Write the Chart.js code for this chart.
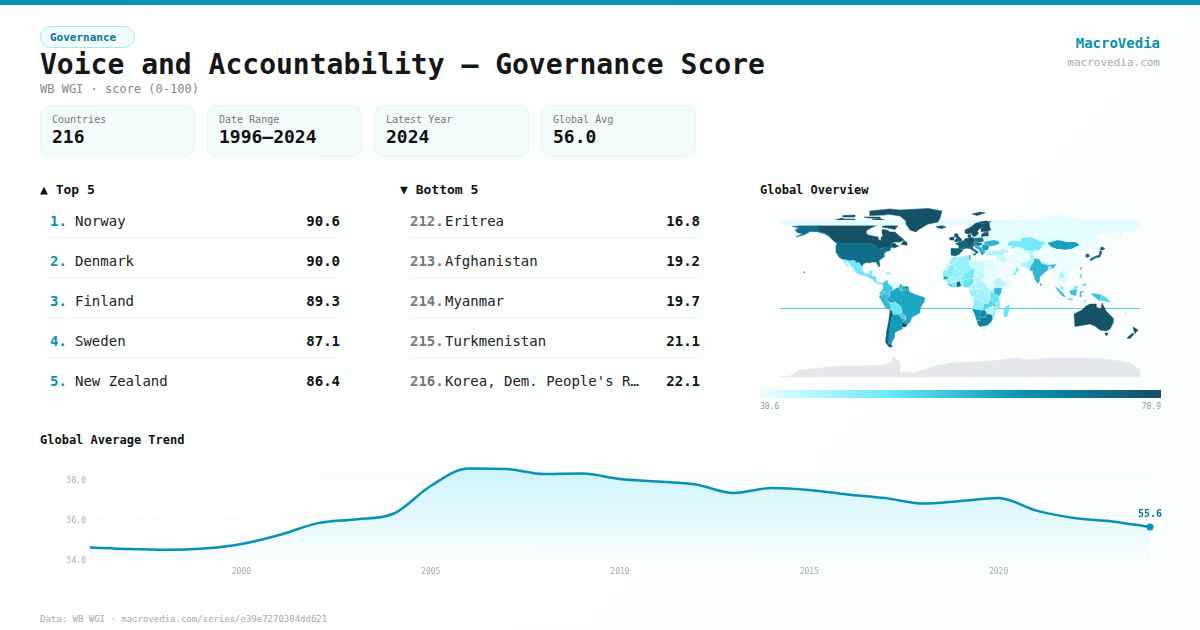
<!DOCTYPE html>
<html><head><meta charset="utf-8">
<script src="https://cdn.jsdelivr.net/npm/chart.js@4"></script>
<style>
html,body{margin:0;padding:0}
body{width:1200px;height:630px;position:relative;overflow:hidden;font-family:"DejaVu Sans Mono",monospace;color:#111;
background:linear-gradient(135deg,#ffffff 0%,#fcfefe 45%,#fbfefe 100%)}
.t{position:absolute;white-space:pre;line-height:16px;height:16px}
.bar{position:absolute;left:0;top:0;width:1200px;height:5px;background:#0891b2}
.pill{position:absolute;left:40px;top:26px;width:93px;height:20px;border:1px solid #a5e9f5;border-radius:11px;background:#f0fdfa}
.card{position:absolute;top:105px;width:153px;height:50px;border:1px solid #e8f7f5;border-radius:10px;background:#f2fdfb}
.sep{position:absolute;height:2px;background:#f5f7f8}
.cbar{position:absolute;left:760px;top:390px;width:401px;height:8px;background:linear-gradient(90deg,#ecfeff 0%,#67e8f9 33%,#0891b2 66%,#164e63 100%)}
canvas{position:absolute}
.nm{overflow:hidden;text-overflow:ellipsis}
</style></head><body>
<div class="bar"></div>
<div class="pill"></div>
<div class="t" style="left:50px;top:29.5px;font-size:11px;font-weight:700;color:#0e7490">Governance</div>
<div class="t" style="left:40px;top:49px;font-size:28px;line-height:32px;height:32px;font-weight:700;color:#161616">Voice and Accountability — Governance Score</div>
<div class="t" style="left:40px;top:81px;font-size:12px;color:#888">WB WGI · score (0-100)</div>
<div class="t" style="right:40px;top:35px;font-size:14px;font-weight:700;color:#0891b2">MacroVedia</div>
<div class="t" style="right:40px;top:55px;font-size:11px;color:#aaa">macrovedia.com</div>
<div id="cards"></div>
<div class="t" style="left:40px;top:182px;font-size:13px;font-weight:700">▲ Top 5</div>
<div class="t" style="left:400px;top:182px;font-size:13px;font-weight:700">▼ Bottom 5</div>
<div class="t" style="left:760px;top:182px;font-size:12px;font-weight:700">Global Overview</div>
<div id="rows"></div>
<canvas id="map" width="360" height="180" style="left:780px;top:202px;width:360px;height:180px"></canvas>
<div class="cbar"></div>
<div class="t" style="left:760px;top:399px;font-size:8px;color:#999">30.6</div>
<div class="t" style="right:39px;top:399px;font-size:8px;color:#999">78.9</div>
<div class="t" style="left:40px;top:432px;font-size:12px;font-weight:700">Global Average Trend</div>
<canvas id="trend" width="1130" height="140" style="left:40px;top:450px;width:1130px;height:140px"></canvas>
<div class="t" style="left:40px;top:611px;font-size:9px;color:#aaa">Data: WB WGI · macrovedia.com/series/e39e7270384dd621</div>
<script>
// ---- header stats ----
const statLabels=["Countries","Date Range","Latest Year","Global Avg"];
const statValues=["216","1996–2024","2024","56.0"];
// ---- rankings ----
const topNames=["Norway","Denmark","Finland","Sweden","New Zealand"];
const topRanks=[1,2,3,4,5];
const topScores=[90.6,90.0,89.3,87.1,86.4];
const bottomNames=["Eritrea","Afghanistan","Myanmar","Turkmenistan","Korea, Dem. People's Rep."];
const bottomRanks=[212,213,214,215,216];
const bottomScores=[16.8,19.2,19.7,21.1,22.1];
// ---- trend ----
const years=[1996,1997,1998,1999,2000,2001,2002,2003,2004,2005,2006,2007,2008,2009,2010,2011,2012,2013,2014,2015,2016,2017,2018,2019,2020,2021,2022,2023,2024];
const globalAvg=[54.58,54.5,54.46,54.52,54.75,55.2,55.78,55.98,56.25,57.65,58.53,58.5,58.25,58.27,58.0,57.87,57.73,57.3,57.55,57.45,57.23,57.05,56.77,56.9,57.05,56.42,56.05,55.88,55.6];
// ---- map: paint order, [name, score, lon/lat outline] ----
const scaleMin=30.6, scaleMax=78.9;
const mapNames=[],mapScores=[],mapOutlines=[];
function add(n,v,...rings){rings.forEach(r=>{mapNames.push(n);mapScores.push(v);mapOutlines.push(r)})}
add("Fiji",44,[-180,-16.5,180,-16.5]);
add("Antarctica",null,[-180,-84.7,180,-84.7,180,-78,170,-71,160,-69,140,-66.5,110,-66,90,-66,70,-68,55,-66,30,-69,10,-70,-10,-71,-25,-74,-37,-78,-45,-81,-60,-80,-60,-74,-60,-70,-67,-64.5,-68,-70,-75,-73,-100,-74,-120,-74,-140,-76,-160,-78,-170,-84]);
add("Canada",78,
 [-141,69.6,-135,69,-128,70,-120,69.5,-115,68,-108,68,-100,68,-95,69,-94,72,-90,69,-85,69.5,-81,68,-87,65,-93,62,-94,59,-92,57,-85,55.5,-82,55,-82,52.5,-79,51.5,-79,54.5,-77,56,-78,59,-78,62.4,-73,62,-70,60,-65,60,-62,57,-58,54,-56,52,-60,50,-66,50,-70,47,-65,49,-64,47,-61,46,-66,44,-67,45,-69,47,-71,45,-75,45,-79,43.5,-83,42,-83,45.5,-88,48,-95,49,-123,49,-125,50,-130,54.5,-130,56,-135,59,-141,60.3],
 [-80,73.5,-72,71,-62,66.5,-65,62.5,-72,64,-78,65,-74,68,-88,73],
 [-117,69,-105,69,-101,70,-106,73,-118,73],
 [-125,72,-118,74,-116,73,-120,71],
 [-96,75,-80,75,-80,73.8,-92,74],
 [-117,75,-105,75,-105,77,-117,76.5],
 [-90,76.5,-75,77,-62,82,-70,83,-90,81],
 [-59,47.7,-53,46.7,-53,49.5,-56,51.5]);
add("Alaska",71,[-141,69.6,-156,71.3,-166,68.5,-161,66,-168,65.6,-161,64,-165,62,-162,59,-157,58.5,-164,55,-155,57.5,-150,60.5,-145,60.3,-141,60,-135,58,-130,55,-133,58.5,-137,59,-141,60.3]);
add("Russia band",31.5,[-180,72,180,72,180,66.5,-180,66.5]);
add("Greenland",78,[-73,78,-90,80,-60,82,-32,83.5,-18,81,-20,74,-22,70,-32,68,-42,62,-44,60,-50,62,-54,68,-54,71,-60,76]);
add("Iceland",78,[-24,65.5,-18,66.3,-14,65,-18,63.5,-22,64]);
add("United States",71,[-123,49,-95,49,-88,48,-83,45.5,-82.5,42,-79,43,-75,45,-71,45,-69,47,-67,45,-70,43.5,-70,41.5,-74,40.5,-76,38,-75.5,35.5,-81,31.5,-80,26,-81,25,-82.7,28,-84,30,-89,30,-90,29,-94,29.5,-97,28,-97.3,26,-99,26.5,-101,29.7,-103,29,-106,31.8,-111,31.3,-115,32.5,-117,32.5,-120.5,34.5,-124,40,-124,46],[-156,20.5,-155,19.8,-155.8,19]);
add("Mexico",46,[-117,32.5,-115,32.5,-111,31.3,-106,31.8,-103,29,-101,29.7,-99,26.5,-97.3,26,-97.8,22,-95,18.5,-91,18.5,-90.5,21,-87,21.5,-88,18,-90.5,17.8,-92,14.5,-95,16,-100,17,-105,20,-106,23,-110,27,-113,31,-114.5,30,-112,26,-110,23,-112,24.5,-115,28]);
add("Central America",48,[-92,14.5,-90.5,17.8,-88,18,-88,16,-84,15.8,-83.3,15,-83.5,11,-82,9,-79,9.5,-77.5,8.5,-78,7.5,-80.5,7.5,-83,8.3,-85.5,10,-87.5,13,-90,13.7]);
add("Cuba",33,[-85,22,-80,23,-74,20.2,-77.5,19.9,-82,22]);
add("Hispaniola",45,[-74.5,18.5,-73,20,-68.5,18.5,-71.5,17.8]);
add("Colombia",53,[-77.5,8.5,-75,11,-72,12.2,-72,9,-70,7,-67.5,6,-67,2,-70,1,-70,-4,-73,-2,-75,0,-78.5,1.3,-77,4,-77.5,7]);
add("Venezuela",31.5,[-72,12.2,-68,10.5,-62,10.7,-60,8.5,-61,5,-64,4,-67,1.5,-67.5,6,-70,7,-72,9]);
add("Guyana",55,[-60,8.5,-57,6,-58,1.5,-60,1.5,-61,5]);
add("Suriname",60,[-57,6,-54,5.8,-54.5,2,-58,1.5]);
add("French Guiana",72,[-54,5.8,-51.5,4.5,-54.5,2]);
add("Ecuador",52,[-78.5,1.3,-75,0,-75.3,-1,-78,-3,-80,-3.3,-81,-1]);
add("Peru",55,[-81,-4.5,-80,-3.3,-78,-3,-75.3,-1,-75,0,-73,-2,-70,-4,-74,-7,-70.5,-11,-69,-12.5,-69,-16,-70,-18.3,-75,-15.5,-78,-10]);
add("Bolivia",47,[-69,-11,-65,-10,-60,-13.5,-58,-17,-58,-20,-62,-22,-67,-22.8,-69,-18,-69,-12.5]);
add("Brazil",59,[-60,5,-60,1.5,-58,1.5,-54.5,2,-51.5,4.3,-50,0,-44,-2.5,-35,-5.5,-35,-9,-39,-15,-40,-21,-48,-25.5,-49,-29,-53.5,-34,-57.5,-30,-54,-27,-54.5,-24,-58,-22,-58,-17,-60,-13.5,-65,-10,-70,-11,-74,-7,-70,-4,-70,1,-67,1.5,-64,4]);
add("Paraguay",52,[-62,-22,-58,-20,-58,-22,-54.5,-24,-54.7,-27,-58,-27,-60,-24]);
add("Uruguay",78,[-58.4,-33.5,-57.5,-30,-53.5,-33,-54.5,-35,-58,-34.7]);
add("Argentina",61,[-67,-22.8,-62,-22,-60,-24,-58,-27,-54.7,-27,-57.7,-30,-58.4,-34,-57,-37,-62,-39,-65,-41,-65,-45,-68,-50,-68.5,-53,-68.5,-54.5,-65.5,-55,-68.5,-55,-72,-52,-71.5,-45,-70.5,-38,-69.5,-30,-68.5,-25]);
add("Chile",74,[-70,-18.3,-69,-18,-67,-22.8,-68.5,-25,-69.5,-30,-70.5,-38,-71.5,-45,-72,-52,-68.5,-53,-68.5,-55,-71,-55,-74.5,-50,-73.5,-40,-71.5,-30,-70.5,-23]);
add("Russia",31.5,[28,70,33,69,41,67,44,68,54,68.5,68,68.5,70,73,80,73,87,75,100,77,113,74,130,71,140,72.5,160,70,170,70,180,68,180,65,177,62,170,60,163,60,162,55,156,51,156,57,163,62,155,59,142,59,135,54,141,52,135,43,131,43,135,48,127,50,120,53,116,50,107,50,98,50,87,49,80,51,71,55,61,54,60,51,50,51,47,48,48,46,47,42,40,43.5,38,47,40,49,38,51,34,52,32,53.5,28,56,28,60,31,62.5,30,64,29,69],[52,71,56,73,68,77,60,75.5,55,71],[142,46,143,54,142.5,54,142,50],[95,79,105,79,100,77.5]);
add("Norway",78,[5,59,5,62,11,65,15,68.5,20,70,26,71,31,70,28,69.5,24,68.5,18,68.5,14,65,12.5,61,11,59,8,58],[12,78,20,80,25,79,17,76.5]);
add("Sweden",78,[11,59,12.5,61,14,65,18,68.5,23.5,68,24,66,21,64,17,61,18.5,59,16,56,13,55.5]);
add("Finland",78,[21,60.5,21,63,24,66,23.5,68,28,70,29,69,30,64,31,62.5,28,60.5]);
add("Denmark",78,[8,55,8,57,10.5,57.5,10.5,55]);
add("United Kingdom",75,[-5,50,1,51,1.5,53,-2,56,-2,58,-5,58.5,-6,56,-3,54,-5,52]);
add("Ireland",77,[-10,52,-6,52,-6,55,-10,54.5]);
add("France",73,[-4.5,48.5,2,51,6,51,8,49,7.5,47.5,7.5,44,3,43,-1.5,43.5,-1,46]);
add("Iberia",74,[-9,43.7,-1.5,43.5,3,42.3,-0.5,38,-5,36,-9,37]);
add("Germany",77,[6,51,3.5,51.3,4.8,53,8.5,54,9,55,14,54,15,51,13,48.5,17,48,14,46.5,8,46,7.5,47.5,8,49]);
add("Poland",70,[14,54,19,54.5,23.5,54,24,50.5,19,49.5,15,51]);
add("Italy",72,[7,44,8,46,13.5,46.5,12.5,44,18.5,40,16,38,15.5,40,10.5,43],[12.5,38,15.5,38,15,36.7]);
add("Hungary and Slovakia",68,[15,51,19,49.5,22.5,49,22,47,18,46,14,46.5,17,48,13,48.5]);
add("Romania and Bulgaria",60,[22,47,27,48,29,45,28,42,23,41,22.5,44]);
add("Balkans",57,[14,46.5,18,46,22.5,44,23,41,26,41,24,38,22,36.5,20,39.5,19,42,15,44.5]);
add("Ukraine",56,[24,50.5,24,48,27,48,29,45.5,33,46,37,47,40,49,38,51,34,52,30,51.5]);
add("Belarus",33,[23.5,54,24,56,28,56,32,53.5,30,51.5,24,50.5]);
add("Baltics",76,[21,55,21.5,57.5,24,59.5,28,59.5,28,56,24,56]);
add("Turkey",38,[26,41,26.5,39,28,36.7,36,36.2,44,37,44.5,39.5,42,41.5,36,41.5,31,41]);
add("Caucasus",39,[40,43.5,48,41.8,49,39,44.5,39.5,42,41.5]);
add("Kazakhstan",45,[47,48,50,51,60,51,61,54,71,55,80,51,87,49,83,47,80,42,70,41,66,41,61,44,56,45,51,42,52,46,49,46]);
add("Uzbekistan and Turkmenistan",31.5,[51,42,56,45,61,44,66,41,70,41,73,40,67,37,61,36,54,37.5,53,40]);
add("Kyrgyzstan and Tajikistan",38,[70,41,80,42,75,37,68,37.5]);
add("Mongolia",60,[87,49,98,52,107,50,116,50,120,47,112,43,105,42,96,43,91,45]);
add("China",30.6,[73,40,80,42,83,47,87,49,91,45,96,43,105,42,112,43,120,47,116,50,120,53,127,50,135,48,131,43,125,40,121,39,122,37,119,35,122,31,120,26,114,22,108,21.5,106,23,102,22,98,24,97,28,88,28,81,30,79,33,74,37]);
add("North Korea",30.6,[125,40,131,43,128,38.5,125,38]);
add("South Korea",72,[126,38,128.5,38,129.5,35.5,126.5,34.5]);
add("Japan",74,[130,33,131,31,135,34,140,35,141,38,141.5,41,140,41,139,37,135,35.5],[140,42,141.5,45.5,145,43.5,143,42]);
add("Taiwan",70,[120.2,23,121,25,122,25,121,22]);
add("India",56,[74,34,79,33,81,30,88,27,97,28,94,24,92,23,89,26,88,22,85,19.5,80,15,80,11,77.5,8,75,12,73,18,72.5,21,69,22,70,24,71,27,74,31]);
add("Pakistan",39,[61,25,66,25,69,22,70,24,71,27,74,31,74,37,70,37,70,33,66,30,61,29]);
add("Afghanistan",31,[61,29,66,30,70,33,70,37,67,37,61,36]);
add("Iran",31,[44.5,39.5,48,38,54,37,61,36,61,25,57,26,52,27,48,30,46,33,44.5,37]);
add("Iraq and Syria",35,[36,36.2,44,37,46,33,48,30,44,29,39,32,36,32]);
add("Saudi Arabia",30.6,[34.8,29,39,32,44,29,48,28,51,25,56,24.5,55,20,52,19,44,17,42.7,16.5,38,22]);
add("Yemen",31,[43,13,52,16,52,19,44,17]);
add("Oman",44,[56,26,59.5,22.5,55,17,52,17,55,20,56,24.5]);
add("Myanmar",31,[92,22,94,24,97,28,98,24,101,21,99,16,98.5,11,97,17,94,16,94,19]);
add("Thailand",38,[98.5,10,99,16,101,21,105,18,105,15,100,13,99.5,9,100.5,7,99,7]);
add("Indochina",33,[102,22,106,23,108,21.5,106,18,109,13,106,9,103,11,105,15,105,18,101,21]);
add("Malaysia",44,[100,6.5,103,6,104,1.5,101,3],[109,1,112,3,116,7,119,5,117,3.5,114,2,111,1.5]);
add("Indonesia",54,[95,5.5,98,4,104,-2,106,-6,102,-4,97,2],[105,-6,110,-6.5,115,-8,110,-8],[109,1,111,1.5,114,2,117,3.5,117,1,116,-4,111,-3],[119.5,-5,120,1,125,1,121,-1,122,-5],[131,-1,141,-2.6,141,-9,138,-8,133,-4],[124,-10,127,-8.5,125,-8]);
add("Papua New Guinea",50,[141,-2.6,147,-6,151,-10.5,143,-9,141,-9]);
add("Philippines",48,[120,18,122,18,122,14,124,12,120,14],[122,8,126,9,126,6,123,6]);
add("Sri Lanka",55,[80,9.5,82,7,80.5,6]);
add("Bangladesh",40,[88,22,89,26,92,25,92,22]);
add("Nepal",46,[81,30,88,27.5,88,26.5,81,28.5]);
add("Morocco",41,[-5.9,35.8,-2,35,-1,32,-8.7,27.7,-13,27.7,-9.5,30,-9,33]);
add("Western Sahara",35,[-13,27.7,-8.7,27.7,-12,23.5,-13,21,-17,21]);
add("Algeria",41,[-2,35,9,37,8.5,30,12,23.5,6,19,3,19,-5,25,-8.7,27.7,-1,32]);
add("Tunisia",52,[9,37,11,37,11,33,9,31,8.5,32]);
add("Libya",34,[11,33,15,32,19,30.5,25,32,25,20,24,19.5,15,23,12,23.5,9,31]);
add("Egypt",32,[25,32,34,31,34.8,29,37,22,25,22]);
add("Mauritania",43,[-17,21,-13,21,-12,23.5,-8.7,27.7,-5,25,-6.5,15.5,-12,15,-16.5,16]);
add("Senegal",60,[-16.5,16,-12,15,-12,12.5,-17,12.5]);
add("Guinea",41,[-15,11,-13,12.5,-8,12,-8,8,-11,8,-13,9.5]);
add("Sierra Leone and Liberia",52,[-13,9.5,-11,8,-8,8,-7.5,4.5,-12,7]);
add("Côte d'Ivoire",45,[-8,8,-8,10.5,-3,10,-3,5,-7.5,4.5]);
add("Ghana",72,[-3,10,0,11,1,6,-3,5]);
add("Togo and Benin",43,[0,11,3.5,12,2.7,6.3,1,6]);
add("Burkina Faso",41,[-5,11,-3,10,0,11,2,12,0,15,-4,14]);
add("Mali",41,[-12,15,-6.5,15.5,-5,25,3,19,4,15,2,15,0,15,-4,14,-5,11,-8,10.5,-8,12,-12,12.5]);
add("Niger",45,[0,15,2,12,3.5,12,8,13,13.5,13.5,15,23,12,23.5,6,19,3,19,4,15]);
add("Nigeria",47,[2.7,6.3,3.5,12,8,13,13.5,13.5,14,11,12,7,9,4.5,5,4.5]);
add("Chad",36,[13.5,13.5,14,11,15,9,19,9,22,11,24,15,24,19.5,15,23]);
add("Sudan",31,[24,19.5,25,22,37,22,38.5,18,36,14,33,10,27,10,24,9,22,11,24,15]);
add("South Sudan",32,[24,9,27,10,33,10,34,8,33.5,4,28,4]);
add("Eritrea",30.6,[36,14,38.5,18,43,12.5,40,14.5]);
add("Ethiopia",37,[33,10,36,14,40,14.5,43,11,48,8,42,4,36,4.5,34,8]);
add("Somalia",31,[43,11,51,12,47,3,41,-1.5,41,4,48,8]);
add("Kenya",55,[34,4.5,42,4,41,-1.5,39,-4.5,34,-1]);
add("Uganda",42,[30,0,34,4,34,-1,30,-1.5]);
add("Tanzania",47,[30,-1,34,-1,39,-4.5,40,-10.5,34.5,-11,30,-8]);
add("Central African Republic",38,[15,9,19,9,22,11,24,9,28,4,23,4,18.5,3.5,15,5]);
add("Cameroon",38,[9,4.5,12,7,14,11,15,9,15,5,16,2,10,2.3]);
add("Gabon and Congo",41,[9,1,10,2.3,16,2,18.5,3.5,17,-1,14,-4.5,11,-3.8]);
add("DR Congo",39,[12.5,-6,14,-4.5,17,-1,18.5,3.5,23,4,28,4,31,2,30,-1.5,30,-8,28,-12,22,-11,18,-8]);
add("Angola",42,[12,-5,12.5,-6,18,-8,22,-11,24,-13,22,-18,12,-17,14,-10]);
add("Zambia",50,[22,-11,28,-12,30,-8,33,-9.5,33,-14,28,-16,25,-18,22,-18,24,-13]);
add("Malawi",52,[33,-9.5,35,-11,35.5,-16,33,-14]);
add("Mozambique",42,[34.5,-11,40.5,-10.5,40.5,-15,35,-20,35.5,-24,32.8,-26.5,31.5,-23,33,-19,35.5,-16]);
add("Zimbabwe",38,[25,-18,28,-16,33,-16,33,-19,31.5,-22.5,27,-22]);
add("Namibia",62,[12,-17,22,-18,25,-18,21,-18.5,20,-28.5,16.5,-28.5,14.5,-22]);
add("Botswana",64,[21,-18.5,25,-18,27,-22,25,-25.5,20,-25,20,-22]);
add("South Africa",67,[16.5,-28.5,20,-28.5,20,-25,25,-25.5,27,-22,31.5,-22.5,32.8,-26.5,32,-29,28,-33,25,-34,20,-34.8,18,-33]);
add("Madagascar",47,[44,-16,49.5,-12,50,-16,47,-25,44,-25,43.5,-21]);
add("Australia",78,[114,-22,122,-18,126,-14,130,-12,136,-12,136,-15,141,-17,142,-11,146,-19,153,-26,153,-31,150,-37,146,-39,140,-38,135,-34,130,-32,124,-33,115,-34.5],[145,-41,148,-41,147,-43.5,146,-43.5]);
add("New Zealand",78.9,[173,-35,178,-38,175,-41.5,174,-39],[172.5,-41,174,-42,170,-46.5,167,-46]);
add("New Caledonia",60,[164,-20,167,-22,166,-22]);

// ---- colour ramp of the legend ----
const rampStops=[[236,254,255],[103,232,249],[8,145,178],[22,78,99]];
function rampColor(v){
 if(v==null) return "#e5e7eb";
 const t=Math.max(0,Math.min(1,(v-scaleMin)/(scaleMax-scaleMin)))*(rampStops.length-1);
 const i=Math.min(rampStops.length-2,Math.floor(t)),f=t-i;
 const c=rampStops[i].map((a,k)=>Math.round(a+(rampStops[i+1][k]-a)*f));
 return `rgb(${c[0]},${c[1]},${c[2]})`;
}
// ---- text blocks ----
const el=(h)=>{const d=document.createElement('div');d.innerHTML=h;return d.firstChild};
const cards=document.getElementById('cards');
statLabels.forEach((l,i)=>{
 const x=40+i*167;
 cards.appendChild(el(`<div class="card" style="left:${x}px"></div>`));
 cards.appendChild(el(`<div class="t" style="left:${x+12}px;top:112px;font-size:10px;color:#777">${l}</div>`));
 cards.appendChild(el(`<div class="t" style="left:${x+12}px;top:129px;font-size:18px;font-weight:700;color:#111">${statValues[i]}</div>`));
});
const rows=document.getElementById('rows');
function list(x,ranks,names,scores,rankCss,nameX,nameW){
 ranks.forEach((r,i)=>{
  const y=213+i*40;
  rows.appendChild(el(`<div class="t" style="left:${x}px;top:${y}px;font-size:14px;${rankCss}">${r}.</div>`));
  rows.appendChild(el(`<div class="t nm" style="left:${nameX}px;width:${nameW}px;top:${y}px;font-size:14px;color:#222">${names[i]}</div>`));
  rows.appendChild(el(`<div class="t" style="left:${x+190}px;width:100px;text-align:right;top:${y}px;font-size:14px;font-weight:700">${scores[i].toFixed(1)}</div>`));
  if(i<4) rows.appendChild(el(`<div class="sep" style="left:${x}px;width:290px;top:${y+24}px"></div>`));
 });
}
list(50,topRanks,topNames,topScores,"font-weight:700;color:#0891b2",75,200);
list(410,bottomRanks,bottomNames,bottomScores,"font-weight:700;color:#777",445,195);

// ---- map chart ----
const datasets=mapOutlines.map((r,i)=>{
 const pts=[];for(let k=0;k<r.length;k+=2)pts.push({x:r[k],y:r[k+1]});
 if(mapNames[i]==="Fiji"){
  return {label:"Fiji",data:pts,showLine:true,fill:false,tension:0,pointRadius:0,borderColor:"#62c8dd",borderWidth:1};
 }
 pts.push({x:r[0],y:r[1]});
 const col=rampColor(mapScores[i]);
 return {label:mapNames[i],data:pts,showLine:true,fill:'shape',tension:0,pointRadius:0,backgroundColor:col,
  borderColor:mapScores[i]==null||mapScores[i]>70?col:'rgba(255,255,255,0.3)',borderWidth:0.5};
}).reverse();
new Chart(document.getElementById('map'),{type:'scatter',data:{datasets},options:{
 responsive:false,animation:false,events:[],layout:{padding:0},
 plugins:{legend:{display:false},tooltip:{enabled:false}},
 scales:{x:{type:'linear',min:-180,max:180,display:false},y:{type:'linear',min:-90,max:90,display:false}}
}});

// ---- trend chart ----
const lastLabel={id:'lastLabel',afterDatasetsDraw(c){
 const m=c.getDatasetMeta(0),p=m.data[m.data.length-1],g=c.ctx;
 g.save();g.font='bold 10px "DejaVu Sans Mono"';g.fillStyle='#0e7490';g.textAlign='center';g.textBaseline='middle';
 g.fillText(globalAvg[globalAvg.length-1].toFixed(1),p.x,p.y-12.5);g.restore();
}};
function nudgeLabels(s,dy){
 if(s._nudged) return; s._nudged=true;
 const orig=s._computeLabelItems;
 s._computeLabelItems=function(a){const it=orig.call(this,a);it.forEach(i=>{i.options.translation[1]+=dy});return it};
}
new Chart(document.getElementById('trend'),{type:'line',
 data:{labels:years,datasets:[{data:globalAvg,borderColor:'#0891b2',borderWidth:2.5,cubicInterpolationMode:'monotone',fill:'start',
  backgroundColor(ctx){const {ctx:g,chartArea:a}=ctx.chart;if(!a)return 'transparent';
   const gr=g.createLinearGradient(0,a.top,0,a.bottom);gr.addColorStop(0,'rgba(34,211,238,0.23)');gr.addColorStop(1,'rgba(34,211,238,0.01)');return gr},
  pointRadius:(c)=>c.dataIndex===globalAvg.length-1?3.5:0,pointBackgroundColor:'#0891b2',pointBorderWidth:0,clip:false}]},
 options:{responsive:false,animation:false,events:[],layout:{padding:{top:9,right:20,left:0,bottom:0}},
  plugins:{legend:{display:false},tooltip:{enabled:false}},
  scales:{
   x:{type:'category',offset:false,afterFit(s){s.height=31},grid:{display:false,drawTicks:false},border:{display:false},
      ticks:{autoSkip:false,maxRotation:0,padding:8,color:'#aaa',font:{family:'"DejaVu Sans Mono"',size:8},
       callback(v,i){const y=years[i];return y%5===0?String(y):null}}},
   y:{min:54,max:59,afterFit(s){s.width=50;nudgeLabels(s,1.5)},border:{display:false,dash:[4,4]},
      grid:{color:'#f1f3f4',lineWidth:1,drawTicks:false},
      ticks:{stepSize:2,includeBounds:false,padding:4,color:'#aaa',font:{family:'"DejaVu Sans Mono"',size:8},callback:v=>v.toFixed(1)}}
  }},plugins:[lastLabel]});
</script>
</body></html>
